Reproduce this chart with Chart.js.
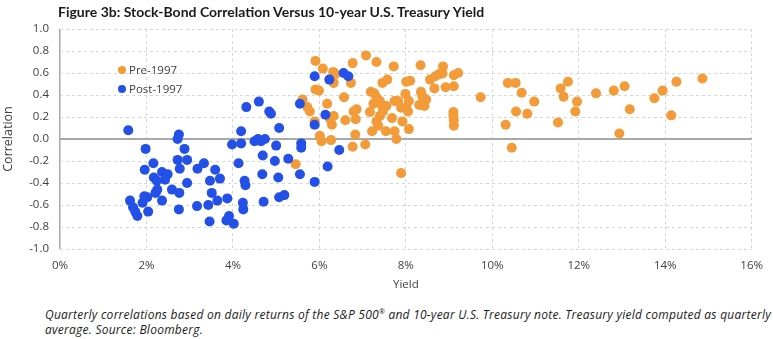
<!DOCTYPE html>
<html>
<head>
<meta charset="utf-8">
<script src="https://cdn.jsdelivr.net/npm/chart.js@4.4.1/dist/chart.umd.min.js"></script>
<style>
  html, body { margin: 0; padding: 0; background: #ffffff; }
  #wrap { position: relative; width: 773px; height: 339px; overflow: hidden; font-family: "Open Sans", Lato, sans-serif; color: #404040; }
  #title { position: absolute; left: 58px; top: 3px; font-family: Lato, sans-serif; font-weight: bold; font-size: 14px; color: #1a1a1a; white-space: nowrap; }
  #chartBox { position: absolute; left: 0; top: 0; width: 773px; height: 300px; }
  #legend { position: absolute; left: 118px; top: 60px; font-size: 11.5px; line-height: 19px; color: #404040; }
  #legend .item { display: flex; align-items: center; white-space: nowrap; }
  #legend .dot { width: 8px; height: 8px; border-radius: 50%; margin-right: 3px; }
  #note { position: absolute; left: 45px; top: 304px; font-style: italic; font-size: 12px; letter-spacing: 0.25px; line-height: 15px; color: #1a1a1a; white-space: nowrap; }
</style>
</head>
<body>
<div id="wrap">
  <div id="chartBox"><canvas id="c" width="773" height="300"></canvas></div>
  <div id="title">Figure 3b: Stock-Bond Correlation Versus 10-year U.S. Treasury Yield</div>
  <div id="legend">
    <div class="item"><span class="dot" style="background:#F29B38"></span>Pre-1997</div>
    <div class="item"><span class="dot" style="background:#2350E6"></span>Post-1997</div>
  </div>
  <div id="note">Quarterly correlations based on daily returns of the S&amp;P 500<sup style="font-size:7px">®</sup> and 10-year U.S. Treasury note. Treasury yield computed as quarterly<br>average. Source: Bloomberg.</div>
</div>
<script>
const seriesNames = ['Pre-1997', 'Post-1997'];
const xTickLabels = ['0%', '2%', '4%', '6%', '8%', '10%', '12%', '14%', '16%'];
const yTickLabels = ['-1.0', '-0.8', '-0.6', '-0.4', '-0.2', '0.0', '0.2', '0.4', '0.6', '0.8', '1.0'];

const preYield = [5.45,5.61,5.72,5.78,5.91,5.99,5.91,6.08,5.89,6.01,6.05,6.27,6.18,6.25,6.29,6.33,6.32,6.37,6.33,
  6.77,6.73,6.57,6.79,6.86,6.60,6.84,6.83,6.77,7.06,7.08,7.19,7.27,7.17,7.22,
  7.32,7.72,7.46,7.57,8.01,8.10,7.32,7.40,7.25,7.44,7.55,7.47,7.40,7.32,7.36,7.54,7.78,7.74,7.68,7.92,8.07,7.89,7.99,7.82,7.74,8.07,8.01,7.89,8.05,
  8.34,8.86,8.56,8.68,8.77,8.85,9.11,9.21,8.66,8.92,9.11,8.35,8.38,8.47,8.31,8.43,9.10,9.10,9.11,9.11,
  9.73,10.36,10.54,10.68,10.97,10.55,10.81,10.31,10.45,11.75,11.58,11.65,11.96,11.92,11.52,12.40,12.81,13.06,13.18,12.94,13.75,13.94,14.26,14.86,14.14];
const preCorr = [-0.23,0.36,0.29,0.25,0.45,0.44,0.71,0.64,0.16,0.03,-0.02,-0.01,0.32,0.18,0.13,0.21,0.61,0.59,0.51,
  0.69,0.51,0.38,0.25,0.27,0.17,0.18,0.04,-0.07,-0.05,0.76,0.43,0.415,0.245,0.07,
  0.70,0.66,0.51,0.54,0.52,0.53,0.38,0.345,0.32,0.31,0.30,0.25,0.21,0.16,0.12,0.07,0.00,0.07,0.19,0.16,0.09,-0.31,0.41,0.345,0.345,0.345,0.285,0.285,0.25,
  0.67,0.66,0.54,0.57,0.59,0.595,0.58,0.60,0.46,0.47,0.48,0.43,0.39,0.36,0.31,0.30,0.245,0.21,0.17,0.12,
  0.38,0.51,0.51,0.42,0.34,0.25,0.23,0.13,-0.08,0.52,0.46,0.385,0.34,0.25,0.15,0.415,0.44,0.48,0.27,0.05,0.37,0.44,0.52,0.55,0.215];

const postYield = [1.58,2.75,2.72,1.98,2.88,4.19,3.98,4.19,4.50,4.58,4.65,4.74,4.69,2.16,1.96,2.72,2.94,2.77,2.36,2.49,
  2.17,2.24,2.43,2.94,3.33,3.18,3.59,3.47,3.70,4.13,4.27,4.29,4.68,2.59,2.76,2.25,2.21,1.95,2.02,1.91,
  1.62,1.69,1.74,1.79,2.04,2.36,2.75,3.17,3.51,3.64,3.43,3.87,4.23,4.24,4.71,3.46,3.85,3.91,4.02,
  4.31,4.60,4.84,4.88,5.07,5.00,5.58,5.58,4.97,5.28,5.05,5.55,5.89,5.07,5.19,5.55,5.89,6.23,6.56,6.67,6.14,5.89,6.46,6.19];
const postCorr = [0.08,0.04,0.00,-0.09,-0.09,0.07,-0.05,-0.04,-0.02,0.00,-0.02,0.00,-0.15,-0.22,-0.28,-0.19,-0.19,-0.27,-0.30,-0.32,
  -0.35,-0.38,-0.37,-0.40,-0.22,-0.27,-0.28,-0.38,-0.36,-0.22,-0.38,-0.42,-0.32,-0.46,-0.49,-0.46,-0.49,-0.52,-0.53,-0.58,
  -0.56,-0.62,-0.66,-0.70,-0.66,-0.56,-0.64,-0.61,-0.49,-0.56,-0.60,-0.54,-0.58,-0.64,-0.57,-0.75,-0.74,-0.70,-0.77,
  0.29,0.34,0.25,0.23,0.10,-0.06,-0.04,-0.08,-0.20,-0.18,-0.35,-0.32,-0.39,-0.53,-0.51,0.32,0.57,0.54,0.60,0.57,0.22,0.13,-0.10,-0.25];

function toPoints(xs, ys) { return xs.map((x, i) => ({ x: x, y: ys[i] })); }

const isZero = v => Math.abs(v) < 1e-9;
const gridColor = ctx => (ctx.tick && isZero(ctx.tick.value)) ? '#a8a8a8' : '#d6d6d6';
const gridWidth = w => ctx => (ctx.tick && isZero(ctx.tick.value)) ? w : 1;
const gridDash = ctx => (ctx.tick && isZero(ctx.tick.value)) ? [] : [3, 3];
const tickFont = { family: '"Open Sans", Lato, sans-serif', size: 11.5 };

new Chart(document.getElementById('c'), {
  type: 'scatter',
  data: {
    datasets: [
      { label: seriesNames[1], data: toPoints(postYield, postCorr), backgroundColor: '#2350E6', borderWidth: 0, pointRadius: 5, pointHoverRadius: 5, order: 0 },
      { label: seriesNames[0], data: toPoints(preYield, preCorr), backgroundColor: '#F29B38', borderWidth: 0, pointRadius: 5, pointHoverRadius: 5, order: 1 }
    ]
  },
  options: {
    responsive: false,
    animation: false,
    layout: { padding: { left: 0, right: 14, top: 29, bottom: 0 } },
    plugins: { legend: { display: false }, tooltip: { enabled: false } },
    scales: {
      x: {
        type: 'linear', min: 0, max: 16,
        afterFit: s => { s.height = 51; },
        ticks: { stepSize: 2, padding: 10, color: '#404040', font: tickFont,
          callback: (v) => xTickLabels[Math.round(v / 2)] },
        grid: { color: gridColor, lineWidth: gridWidth(1.5), drawTicks: false },
        border: { display: false, dash: gridDash },
        title: { display: true, text: 'Yield', color: '#404040', font: tickFont, padding: { top: 0, bottom: 8 } }
      },
      y: {
        type: 'linear', min: -1, max: 1,
        afterFit: s => { s.width = 60; },
        ticks: { stepSize: 0.2, padding: 11, color: '#404040', font: tickFont,
          callback: (v) => yTickLabels[Math.round((v + 1) / 0.2)] },
        grid: { color: gridColor, lineWidth: gridWidth(2), drawTicks: false },
        border: { display: false, dash: gridDash },
        title: { display: true, text: 'Correlation', color: '#404040', font: { family: '"Open Sans", Lato, sans-serif', size: 12.5 }, padding: { top: 1, bottom: 0 } }
      }
    }
  }
});
</script>
</body>
</html>
